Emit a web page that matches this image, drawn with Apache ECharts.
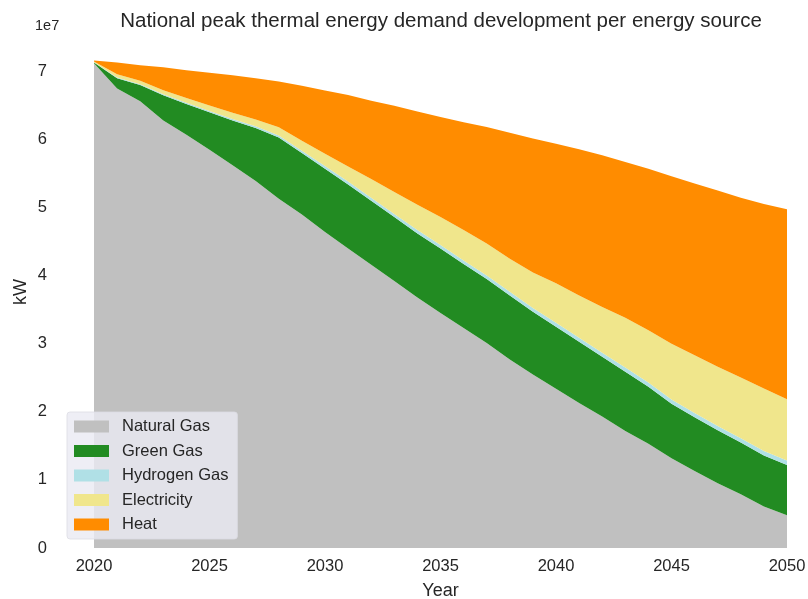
<!DOCTYPE html>
<html><head><meta charset="utf-8">
<script src="https://cdn.jsdelivr.net/npm/echarts@6/dist/echarts.min.js"></script>
<style>html,body{margin:0;padding:0;background:#fff}#c{width:808px;height:599px}</style>
</head><body><div id="c"></div>
<script>
const years = [2020,2021,2022,2023,2024,2025,2026,2027,2028,2029,2030,2031,2032,2033,2034,2035,2036,2037,2038,2039,2040,2041,2042,2043,2044,2045,2046,2047,2048,2049,2050];
// values in kW
const naturalGas = [71.2e6,67.5e6,65.6e6,62.8e6,60.7e6,58.5e6,56.2e6,53.9e6,51.3e6,49.0e6,46.4e6,44.0e6,41.6e6,39.2e6,36.8e6,34.5e6,32.3e6,30.1e6,27.7e6,25.5e6,23.4e6,21.3e6,19.3e6,17.2e6,15.3e6,13.2e6,11.3e6,9.5e6,7.9e6,6.1e6,4.8e6];
const greenGas = [0.1e6,1.5e6,2.4e6,3.7e6,4.5e6,5.5e6,6.6e6,7.8e6,9.0e6,9.0e6,9.3e6,9.4e6,9.4e6,9.4e6,9.4e6,9.5e6,9.4e6,9.4e6,9.4e6,9.2e6,9.1e6,9.0e6,8.8e6,8.7e6,8.4e6,8.0e6,7.9e6,7.8e6,7.6e6,7.5e6,7.4e6];
const hydrogenGas = [0.05e6,0.1e6,0.12e6,0.15e6,0.18e6,0.2e6,0.22e6,0.25e6,0.3e6,0.35e6,0.4e6,0.42e6,0.45e6,0.47e6,0.5e6,0.5e6,0.52e6,0.53e6,0.55e6,0.56e6,0.57e6,0.58e6,0.59e6,0.6e6,0.6e6,0.61e6,0.62e6,0.62e6,0.63e6,0.64e6,0.65e6];
const electricity = [0.1e6,0.5e6,0.5e6,0.6e6,0.7e6,0.8e6,0.9e6,1.0e6,1.2e6,1.45e6,1.8e6,2.2e6,2.75e6,3.2e6,3.7e6,4.1e6,4.5e6,4.7e6,4.85e6,5.2e6,5.8e6,6.2e6,6.7e6,7.3e6,7.7e6,8.2e6,8.5e6,8.7e6,8.9e6,9.2e6,9.0e6];
const heat = [0.15e6,1.7e6,2.3e6,3.35e6,4.1e6,4.8e6,5.5e6,6.05e6,6.7e6,8.1e6,9.3e6,10.5e6,11.5e6,12.7e6,13.7e6,14.7e6,15.8e6,17.1e6,18.5e6,19.7e6,20.5e6,21.5e6,22.3e6,22.9e6,23.7e6,24.6e6,25.2e6,25.9e6,26.4e6,27.1e6,27.9e6];
const seriesNames = ['Natural Gas','Green Gas','Hydrogen Gas','Electricity','Heat'];
const seriesColors = ['#c0c0c0','#228b22','#b0e0e6','#f0e68c','#ff8c00'];
const seriesData = [naturalGas, greenGas, hydrogenGas, electricity, heat];
const xTicks = [2020,2025,2030,2035,2040,2045,2050];
const yTicks = [0,1,2,3,4,5,6,7];

const font = 'Liberation Sans, Arial, sans-serif';
const chart = echarts.init(document.getElementById('c'), null, {renderer:'canvas'});
chart.setOption({
  backgroundColor:'#ffffff',
  animation:false,
  title:{text:'National peak thermal energy demand development per energy source', left:436, top:6, textAlign:'center',
    textStyle:{fontFamily:font, fontSize:20.5, fontWeight:'normal', color:'#262626'}},
  graphic:[{type:'text', left:35, top:18, style:{text:'1e7', font:'14.5px '+font, fill:'#262626'}}],
  grid:{left:94, right:21, top:36, bottom:51, outerBoundsMode:'none', containLabel:false},
  legend:{orient:'vertical', left:67, top:412, data:seriesNames, icon:'rect', itemWidth:35, itemHeight:12, itemGap:7.5,
    padding:[6,9,6,7], backgroundColor:'rgba(234,234,242,0.8)', borderColor:'rgba(220,220,228,0.8)', borderWidth:1, borderRadius:3,
    textStyle:{fontFamily:font, fontSize:16.5, color:'#262626', padding:[0,0,0,8]}},
  xAxis:{type:'category', boundaryGap:false, data:years.map(String), name:'Year', nameLocation:'middle', nameGap:34,
    nameTextStyle:{fontFamily:font, fontSize:18, color:'#262626'},
    axisLine:{show:false}, axisTick:{show:false}, splitLine:{show:false},
    axisLabel:{fontFamily:font, fontSize:16.5, color:'#262626', margin:10, interval:0,
      formatter:v=> xTicks.includes(+v) ? String(v) : ''}},
  yAxis:{type:'value', min:0, max:75.2e6, interval:1e7, name:'kW', nameLocation:'middle', nameGap:64, nameRotate:90,
    nameMoveOverlap:false,
    nameTextStyle:{fontFamily:font, fontSize:18, color:'#262626'},
    axisLine:{show:false}, axisTick:{show:false}, splitLine:{show:false},
    axisLabel:{fontFamily:font, fontSize:16.5, color:'#262626', margin:47, showMaxLabel:false,
      formatter:v=>{const t=Math.round(v/1e7); return yTicks.includes(t)&&Math.abs(v/1e7-t)<1e-6 ? String(t) : '';}}},
  series: seriesNames.map((n,i)=>({
    name:n, type:'line', stack:'total', showSymbol:false, symbol:'none',
    color:seriesColors[i], lineStyle:{width:0}, areaStyle:{color:seriesColors[i], opacity:1},
    itemStyle:{color:seriesColors[i]},
    data: seriesData[i]
  }))
});
</script></body></html>
